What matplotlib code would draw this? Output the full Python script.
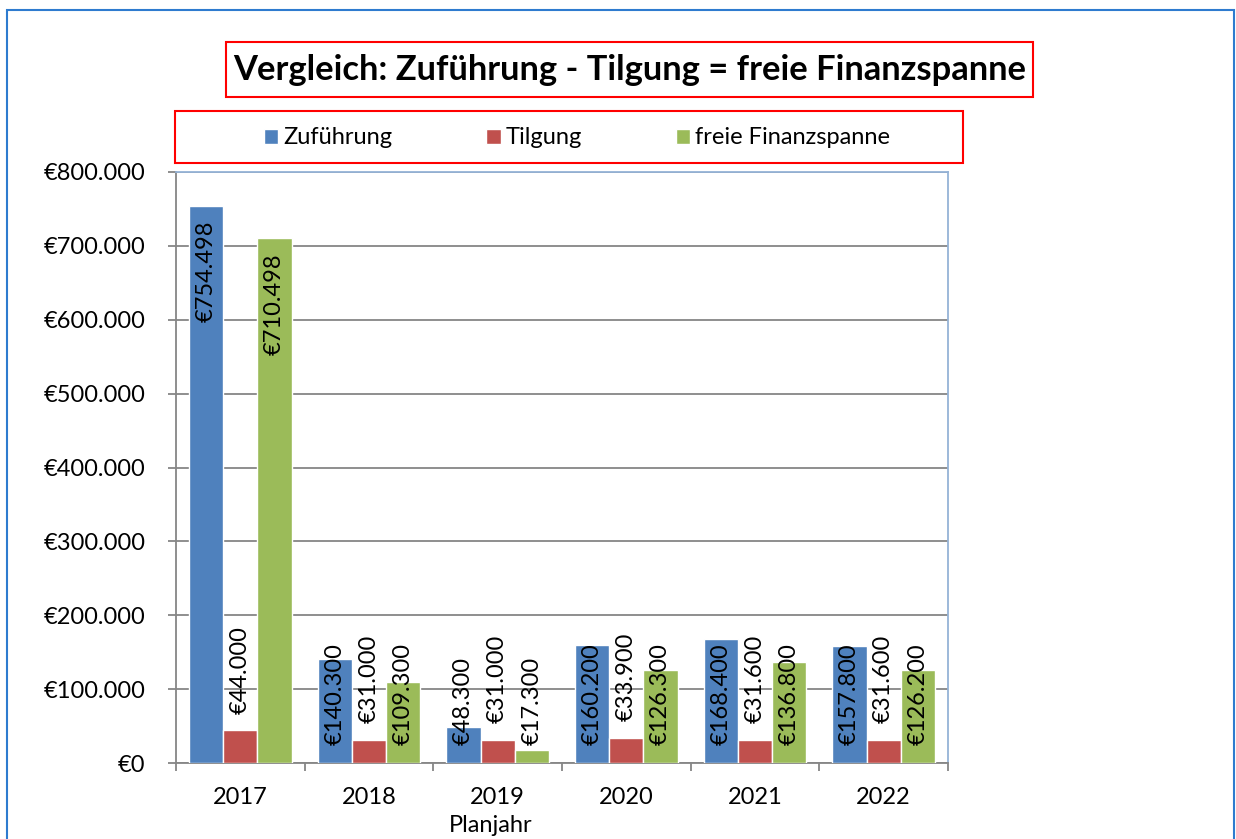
import numpy as np
import matplotlib.pyplot as plt
from matplotlib.patches import Rectangle
from matplotlib.ticker import FuncFormatter

plt.rcParams['font.family'] = ['Lato', 'DejaVu Sans']

# data
years = ['2017', '2018', '2019', '2020', '2021', '2022']
zufuehrung = [754498, 140300, 48300, 160200, 168400, 157800]
tilgung = [44000, 31000, 31000, 33900, 31600, 31600]
freie = [710498, 109300, 17300, 126300, 136800, 126200]
series_names = ['Zuführung', 'Tilgung', 'freie Finanzspanne']
colors = ['#4F81BD', '#C0504D', '#9BBB59']

W, H = 1236, 839
fig = plt.figure(figsize=(W/100, H/100), dpi=100)

def fx(px): return px / W
def fy(py): return 1 - py / H

ax = fig.add_axes([fx(176), fy(763), fx(948) - fx(176), fy(172) - fy(763)])

def euro(v):
    if v == 0:
        return '€0'
    return '€' + f'{int(v):,}'.replace(',', '.')

x = np.arange(len(years))
bw = 0.8 / 3
fs = 17
for i, (vals, col, name) in enumerate(zip([zufuehrung, tilgung, freie], colors, series_names)):
    pos = x + (i - 1) * bw
    ax.bar(pos, vals, bw, color=col, edgecolor='white', linewidth=1, label=name, zorder=3)
    for p, v in zip(pos, vals):
        if v > 300000:
            ax.annotate(euro(v), (p, v), xytext=(0, -11), textcoords='offset points',
                        rotation=90, ha='center', va='top', fontsize=fs, zorder=4)
        elif i == 1:
            ax.annotate(euro(v), (p, v), xytext=(0, 12), textcoords='offset points',
                        rotation=90, ha='center', va='bottom', fontsize=fs, zorder=4)
        else:
            ax.annotate(euro(v), (p, 0), xytext=(0, 13), textcoords='offset points',
                        rotation=90, ha='center', va='bottom', fontsize=fs, zorder=4)

ax.set_xlim(-0.5, len(years) - 0.5)
ax.set_ylim(0, 800000)
ax.set_yticks(np.arange(0, 800001, 100000))
ax.yaxis.set_major_formatter(FuncFormatter(lambda v, p: euro(v)))
ax.grid(axis='y', color='#868686', linewidth=1.3, zorder=1)
ax.set_xticks(x)
ax.set_xticklabels(years)
ax.set_xticks(np.arange(-0.5, len(years)), minor=True)
ax.tick_params(axis='x', which='major', length=0, pad=17, labelsize=fs)
ax.tick_params(axis='x', which='minor', length=6, width=1.3, color='#868686', direction='out')
ax.tick_params(axis='y', length=6, width=1.3, color='#868686', pad=16, labelsize=fs)

for s in ['left', 'bottom']:
    ax.spines[s].set_color('#868686')
    ax.spines[s].set_linewidth(1.3)
for s in ['top', 'right']:
    ax.spines[s].set_color('#95B3D7')
    ax.spines[s].set_linewidth(1.3)

fig.text(fx(491), fy(826), 'Planjahr', ha='center', va='center', fontsize=fs)

# title box
fig.patches.append(Rectangle((fx(226), fy(97)), fx(1033) - fx(226), fy(42) - fy(97),
                             transform=fig.transFigure, fill=False, edgecolor='red', linewidth=1.5))
fig.text(fx(629.5), fy(70), 'Vergleich: Zuführung - Tilgung = freie Finanzspanne',
         ha='center', va='center', fontsize=24.8, fontweight='bold')

# legend box
fig.patches.append(Rectangle((fx(175), fy(163)), fx(963) - fx(175), fy(111) - fy(163),
                             transform=fig.transFigure, fill=False, edgecolor='red', linewidth=1.5))
handles, labels = ax.get_legend_handles_labels()
fig.legend(handles, labels, loc='center', bbox_to_anchor=(fx(577), fy(138)), ncol=3,
           frameon=False, fontsize=fs, handlelength=0.6, handleheight=0.6,
           handletextpad=0.2, columnspacing=4.0)

# outer border
fig.patches.append(Rectangle((fx(7), fy(860)), fx(1234) - fx(7), fy(10) - fy(860),
                             transform=fig.transFigure, fill=False, edgecolor='#2E7BCF', linewidth=1.5))

fig.savefig('out.png', dpi=100)
